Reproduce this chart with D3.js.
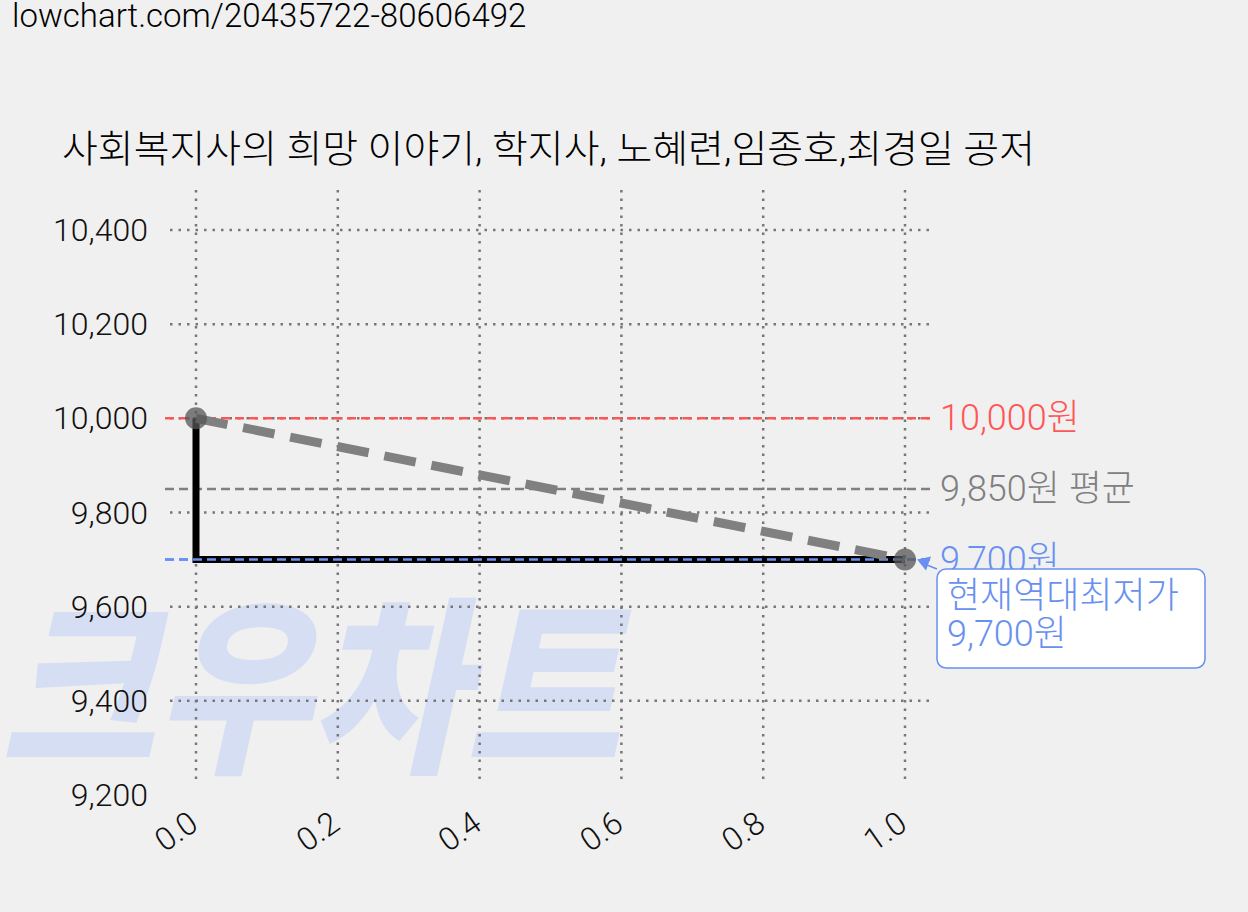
<!DOCTYPE html>
<html><head><meta charset="utf-8">
<script src="https://cdn.jsdelivr.net/npm/d3@7"></script>
<style>body{margin:0;background:#f0f0f0;font-family:Roboto,"Noto Sans CJK KR",sans-serif}</style>
</head><body>
<svg id="c" width="1248" height="912"></svg>
<script>
const xVals=[0,1];
const prices=[10000,9700];
const xTicks=[0,0.2,0.4,0.6,0.8,1.0];
const yTicks=[9200,9400,9600,9800,10000,10200,10400];
const refValues=[10000,9850,9700];
const refLabels=["10,000원","9,850원 평균","9,700원"];
const refColors=["#ff5555","#808080","#6890f0"];
const title="사회복지사의 희망 이야기, 학지사, 노혜련,임종호,최경일 공저";
const annText=["현재역대최저가","9,700원"];

const svg=d3.select("#c");
const font='Roboto,"Noto Sans CJK KR",sans-serif';
svg.append("rect").attr("width",1248).attr("height",912).attr("fill","#f0f0f0");
const x=d3.scaleLinear().domain([0,1]).range([196,905]);
const y=d3.scaleLinear().domain([9200,10400]).range([795,230]);

// watermark
svg.append("text").attr("x",0).attr("y",758).attr("font-size",190).attr("font-weight",900)
 .attr("font-style","italic").attr("fill","#d5def2").attr("font-family",font)
 .attr("textLength",620).attr("lengthAdjust","spacingAndGlyphs").text("크우차트");

svg.append("text").attr("x",12).attr("y",27).attr("font-size",33).attr("font-weight",300).attr("font-family",font).text("lowchart.com/20435722-80606492");
svg.append("text").attr("x",62).attr("y",162).attr("font-size",38).attr("font-weight",300).attr("font-family",font)
 .attr("textLength",973).attr("lengthAdjust","spacingAndGlyphs").text(title);

// grid
const gY=yTicks.filter(v=>v>9200);
svg.selectAll(".hg").data(gY).enter().append("line").attr("x1",170).attr("x2",935)
 .attr("y1",d=>y(d)).attr("y2",d=>y(d)).attr("stroke","#777").attr("stroke-width",2.5).attr("stroke-dasharray","2.5,6");
svg.selectAll(".vg").data(xTicks).enter().append("line").attr("y1",190).attr("y2",785)
 .attr("x1",d=>x(d)).attr("x2",d=>x(d)).attr("stroke","#777").attr("stroke-width",2.5).attr("stroke-dasharray","2.5,6");

// y labels
svg.selectAll(".yl").data(yTicks).enter().append("text").attr("x",148).attr("y",d=>y(d)+11)
 .attr("text-anchor","end").attr("font-size",32).attr("font-weight",300).attr("font-family",font).attr("fill","#111")
 .text(d=>d3.format(",")(d));
// x labels
svg.selectAll(".xl").data(xTicks).enter().append("text")
 .attr("transform",d=>`translate(${x(d)+4},${828}) rotate(-35)`)
 .attr("text-anchor","end").attr("font-size",32).attr("font-weight",300).attr("font-family",font).attr("fill","#111")
 .text(d=>d.toFixed(1));

// reference lines
refValues.forEach((v,i)=>{
 svg.append("line").attr("x1",165).attr("x2",935).attr("y1",y(v)).attr("y2",y(v))
  .attr("stroke",refColors[i]).attr("stroke-width",2.5).attr("stroke-dasharray","9,5");
});

// step line
const step=[[xVals[0],prices[0]],[xVals[0],prices[1]],[xVals[1],prices[1]]];
svg.append("path").attr("d",d3.line().x(d=>x(d[0])).y(d=>y(d[1]))(step))
 .attr("fill","none").attr("stroke","#000").attr("stroke-width",7);
svg.append("line").attr("x1",165).attr("x2",935).attr("y1",y(9700)).attr("y2",y(9700))
 .attr("stroke",refColors[2]).attr("stroke-width",2.5).attr("stroke-dasharray","9,5");

// dashed trend
svg.append("path").attr("d",d3.line().x((d,i)=>x(xVals[i])).y(d=>y(d))(prices))
 .attr("fill","none").attr("stroke","#808080").attr("stroke-width",9).attr("stroke-dasharray","32,16");
svg.selectAll(".pt").data(prices).enter().append("circle")
 .attr("cx",(d,i)=>x(xVals[i])).attr("cy",d=>y(d)).attr("r",11).attr("fill","#555").attr("opacity",0.75);

// ref labels
refValues.forEach((v,i)=>{
 svg.append("text").attr("x",940).attr("y",y(v)+12).attr("font-size",36).attr("font-weight",300).attr("font-family",font)
  .attr("fill",refColors[i]).text(refLabels[i]);
});

// annotation
svg.append("rect").attr("x",937).attr("y",569).attr("width",268).attr("height",99).attr("rx",9)
 .attr("fill","#fff").attr("stroke","#6890f0").attr("stroke-width",1.5);
annText.forEach((t,i)=>svg.append("text").attr("x",947).attr("y",608+i*38).attr("font-size",36).attr("font-weight",300)
 .attr("font-family",font).attr("fill","#6890f0").text(t));
svg.append("line").attr("x1",937).attr("y1",569).attr("x2",922).attr("y2",563).attr("stroke","#6890f0").attr("stroke-width",1.5);
svg.append("path").attr("d",`M${x(1)+12},${y(9700)} l14,-3 l-5,14 z`).attr("fill","#6890f0");
</script></body></html>
